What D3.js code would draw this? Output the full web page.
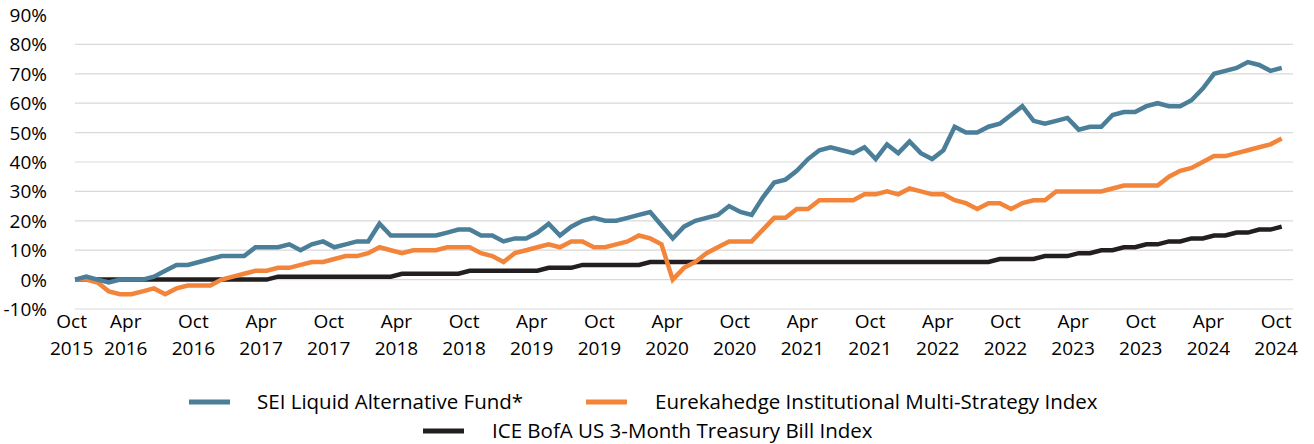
<!DOCTYPE html>
<html>
<head>
<meta charset="utf-8">
<script src="https://cdn.jsdelivr.net/npm/d3@7"></script>
<style>
  body { margin: 0; background: #fff; }
  text { font-family: "Open Sans", "DejaVu Sans", sans-serif; fill: #000; }
</style>
</head>
<body>
<svg id="chart" width="1314" height="444"></svg>
<script>
// monthly cumulative returns (%), Sep 2015 base to Sep 2024
const seiFund = [0, 1, 0, -1, 0, 0, 0, 1, 3, 5, 5, 6, 7, 8, 8, 8, 11, 11, 11, 12, 10, 12,
  13, 11, 12, 13, 13, 19, 15, 15, 15, 15, 15, 16, 17, 17, 15, 15, 13, 14, 14, 16, 19, 15,
  18, 20, 21, 20, 20, 21, 22, 23, 18.5, 14, 18, 20, 21, 22, 25, 23, 22, 28, 33, 34, 37,
  41, 44, 45, 44, 43, 45, 41, 46, 43, 47, 43, 41, 44, 52, 50, 50, 52, 53, 56, 59, 54, 53,
  54, 55, 51, 52, 52, 56, 57, 57, 59, 60, 59, 59, 61, 65, 70, 71, 72, 74, 73, 71, 72];
const eurekahedge = [0, 0, -1, -4, -5, -5, -4, -3, -5, -3, -2, -2, -2, 0, 1, 2, 3, 3, 4, 4,
  5, 6, 6, 7, 8, 8, 9, 11, 10, 9, 10, 10, 10, 11, 11, 11, 9, 8, 6, 9, 10, 11, 12, 11, 13,
  13, 11, 11, 12, 13, 15, 14, 12, 0, 4, 6, 9, 11, 13, 13, 13, 17, 21, 21, 24, 24, 27, 27,
  27, 27, 29, 29, 30, 29, 31, 30, 29, 29, 27, 26, 24, 26, 26, 24, 26, 27, 27, 30, 30, 30,
  30, 30, 31, 32, 32, 32, 32, 35, 37, 38, 40, 42, 42, 43, 44, 45, 46, 48];
const tBill = [0, 0, 0, 0, 0, 0, 0, 0, 0, 0, 0, 0, 0, 0, 0, 0, 0, 0, 1, 1, 1, 1, 1, 1, 1, 1,
  1, 1, 1, 2, 2, 2, 2, 2, 2, 3, 3, 3, 3, 3, 3, 3, 4, 4, 4, 5, 5, 5, 5, 5, 5, 6, 6, 6, 6, 6,
  6, 6, 6, 6, 6, 6, 6, 6, 6, 6, 6, 6, 6, 6, 6, 6, 6, 6, 6, 6, 6, 6, 6, 6, 6, 6, 7, 7, 7, 7,
  8, 8, 8, 9, 9, 10, 10, 11, 11, 12, 12, 13, 13, 14, 14, 15, 15, 16, 16, 17, 17, 18];

const tickMonths = ["Oct", "Apr"];
const tickYears = [2015, 2016, 2016, 2017, 2017, 2018, 2018, 2019, 2019, 2020, 2020,
  2021, 2021, 2022, 2022, 2023, 2023, 2024, 2024];
const yTicks = [-10, 0, 10, 20, 30, 40, 50, 60, 70, 80, 90];

const series = [
  {name: "SEI Liquid Alternative Fund*", values: seiFund, color: "#4b7f99"},
  {name: "Eurekahedge Institutional Multi-Strategy Index", values: eurekahedge, color: "#f3853a"},
  {name: "ICE BofA US 3-Month Treasury Bill Index", values: tBill, color: "#231f20"}
];

const svg = d3.select("#chart"),
      margin = {top: 15, right: 21, bottom: 135, left: 75},
      width = +svg.attr("width"),
      height = +svg.attr("height");

const axisFont = 19, legendFont = 20.5;
const n = seiFund.length;
const x = d3.scaleLinear().domain([0, n]).range([margin.left, width - margin.right]);
const y = d3.scaleLinear().domain([-10, 90]).range([height - margin.bottom, margin.top]);

// gridlines
svg.append("g")
  .selectAll("line")
  .data(yTicks.filter(d => d < 90))
  .join("line")
    .attr("x1", x(0))
    .attr("x2", x(n))
    .attr("y1", d => y(d))
    .attr("y2", d => y(d))
    .attr("stroke", "#d9d9d9")
    .attr("stroke-width", 1.2);

// y labels
svg.append("g")
  .selectAll("text")
  .data(yTicks)
  .join("text")
    .attr("x", 47)
    .attr("y", d => y(d) + 2)
    .attr("text-anchor", "end")
    .attr("dominant-baseline", "middle")
    .attr("font-size", axisFont)
    .text(d => d + "%");

// x labels, every 6 months
const xLabels = svg.append("g");
tickYears.forEach((yr, k) => {
  const pos = k === 0 ? x(-0.3) : x(6 * k - 1.5);
  const t = xLabels.append("text")
    .attr("text-anchor", "middle")
    .attr("font-size", axisFont);
  t.append("tspan").attr("x", pos).attr("y", 328).text(tickMonths[k % 2]);
  t.append("tspan").attr("x", pos).attr("y", 355).text(yr);
});

const line = d3.line()
  .x((d, i) => x(i))
  .y(d => y(d));

// draw bottom series first so blue sits on top
[series[2], series[1], series[0]].forEach(s => {
  svg.append("path")
    .datum(s.values)
    .attr("d", line)
    .attr("fill", "none")
    .attr("stroke", s.color)
    .attr("stroke-width", 4.5)
    .attr("stroke-linejoin", "miter");
});

// legend
const legendPos = [
  {x: 189, y: 402, tx: 257},
  {x: 586, y: 402, tx: 655},
  {x: 423, y: 431, tx: 492}
];
series.forEach((s, i) => {
  const p = legendPos[i];
  svg.append("line")
    .attr("x1", p.x).attr("x2", p.x + 41)
    .attr("y1", p.y).attr("y2", p.y)
    .attr("stroke", s.color)
    .attr("stroke-width", 5);
  svg.append("text")
    .attr("x", p.tx)
    .attr("y", p.y)
    .attr("dy", "0.35em")
    .attr("font-size", legendFont)
    .text(s.name);
});
</script>
</body>
</html>
